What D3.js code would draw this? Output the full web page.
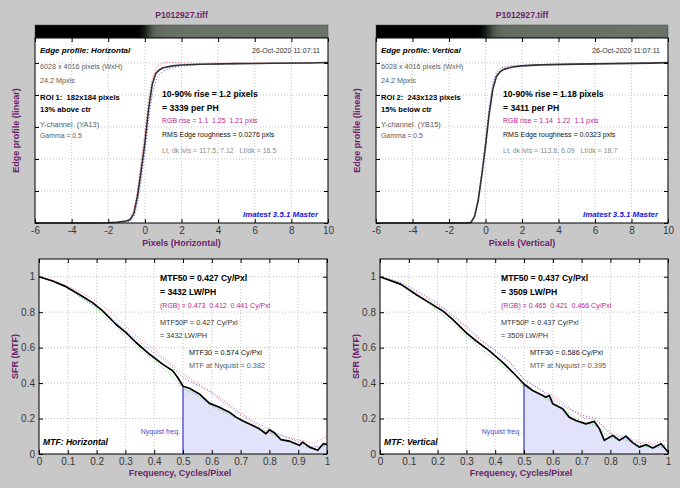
<!DOCTYPE html>
<html><head><meta charset="utf-8">
<script src="https://cdn.jsdelivr.net/npm/d3@7"></script>
<style>body{margin:0;background:#c8c8c8} svg{display:block} text{font-family:"Liberation Sans",Arial,Helvetica,sans-serif;white-space:pre}</style>
</head><body><svg id="c" width="680" height="488"></svg>
<script>
// ---------------- data ----------------
const edgeX  = [-6,-3,-2,-1.5,-1,-0.8,-0.6,-0.4,-0.2,0,0.2,0.4,0.6,0.8,1,1.5,2,3,5,7,9,10];
const edgeH  = [0,0,0.002,0.005,0.012,0.022,0.06,0.17,0.33,0.5,0.71,0.865,0.935,0.958,0.97,0.982,0.987,0.992,0.996,0.998,1.0,1.003];
const edgeHR = [0,0,0.002,0.006,0.016,0.03,0.08,0.21,0.39,0.57,0.77,0.9,0.97,0.99,1.0,1.004,1.0,0.998,0.999,1.0,1.002,1.004];
const edgeHB = [0,0,0.001,0.003,0.008,0.012,0.035,0.12,0.27,0.44,0.64,0.8,0.89,0.93,0.95,0.97,0.98,0.99,0.995,0.998,1.0,1.002];
const edgeV  = [0,0,0,0,0.001,0.003,0.04,0.14,0.3,0.48,0.68,0.835,0.915,0.945,0.96,0.975,0.982,0.988,0.993,0.996,0.999,1.002];
const edgeVR = [0,0,0,0,0.002,0.005,0.05,0.16,0.32,0.5,0.7,0.85,0.925,0.95,0.965,0.978,0.984,0.99,0.995,0.997,1.0,1.003];
const edgeVB = [0,0,0,0,0.001,0.004,0.045,0.15,0.32,0.51,0.72,0.87,0.94,0.965,0.975,0.982,0.986,0.99,0.994,0.997,1.0,1.002];

const freqH = [0,0.047,0.094,0.14,0.186,0.221,0.267,0.302,0.337,0.383,0.429,0.464,0.481,0.5,0.522,0.557,0.591,0.626,0.661,0.684,0.707,0.742,0.765,0.788,0.8,0.817,0.84,0.869,0.904,0.916,0.939,0.968,0.987,1.0];
const mtfH  = [1.0,0.976,0.944,0.9,0.854,0.807,0.732,0.685,0.629,0.564,0.507,0.47,0.433,0.382,0.371,0.339,0.287,0.264,0.236,0.208,0.187,0.161,0.142,0.114,0.137,0.12,0.081,0.073,0.049,0.067,0.039,0.021,0.058,0.054];
const freqV = [0,0.073,0.125,0.171,0.218,0.252,0.299,0.333,0.38,0.426,0.461,0.5,0.53,0.565,0.576,0.588,0.6,0.634,0.657,0.68,0.715,0.744,0.762,0.779,0.808,0.831,0.854,0.877,0.9,0.924,0.947,0.976,1.0];
const mtfV  = [1.0,0.957,0.9,0.854,0.807,0.76,0.685,0.639,0.582,0.517,0.461,0.395,0.358,0.33,0.32,0.33,0.283,0.255,0.208,0.189,0.17,0.184,0.142,0.077,0.105,0.077,0.101,0.064,0.039,0.052,0.034,0.058,0.011];

const freqRGB = [0,0.05,0.1,0.15,0.2,0.25,0.3,0.35,0.4,0.45,0.5,0.55,0.6,0.65,0.7,0.75,0.8,0.85,0.9,0.95,1.0];
const mtfHR = [1,0.98,0.945,0.91,0.86,0.8,0.72,0.65,0.59,0.52,0.45,0.4,0.34,0.28,0.22,0.17,0.12,0.1,0.08,0.06,0.1];
const mtfHG = [1,0.975,0.935,0.88,0.82,0.74,0.665,0.59,0.525,0.46,0.37,0.33,0.27,0.23,0.19,0.15,0.12,0.075,0.05,0.03,0.05];
const mtfHB = [1,0.975,0.935,0.88,0.83,0.77,0.7,0.63,0.57,0.51,0.43,0.39,0.35,0.29,0.23,0.18,0.14,0.1,0.07,0.04,0.05];
const mtfVR = [1,0.975,0.935,0.89,0.84,0.78,0.71,0.64,0.58,0.52,0.42,0.37,0.33,0.27,0.21,0.19,0.12,0.1,0.07,0.06,0.08];
const mtfVG = [1,0.97,0.93,0.87,0.81,0.74,0.665,0.595,0.53,0.46,0.38,0.34,0.29,0.24,0.18,0.16,0.09,0.08,0.05,0.035,0.04];
const mtfVB = [1,0.98,0.945,0.9,0.85,0.79,0.72,0.645,0.585,0.52,0.42,0.37,0.31,0.26,0.22,0.2,0.11,0.09,0.06,0.05,0.05];

const edgeTicksX = [-6,-4,-2,0,2,4,6,8,10];
const edgeTicksY = [0,0.2,0.4,0.6,0.8,1];
const mtfTicksX = [0,0.1,0.2,0.3,0.4,0.5,0.6,0.7,0.8,0.9,1];
const mtfTicksY = [0,0.2,0.4,0.6,0.8,1];
const nyquist = 0.5;

// ---------------- drawing ----------------
const svg = d3.select("#c");
svg.append("rect").attr("width",680).attr("height",488).attr("fill","#c8c8c8");
const PURPLE = "#6b1f6b", MAG = "#b8288c", GRAY = "#5a5a5a";

function T(g, x, y, s, o={}) {
  return g.append("text").attr("x",x).attr("y",y).attr("xml:space","preserve").text(s)
    .attr("font-size",o.size||7.2).attr("fill",o.fill||"#000")
    .attr("font-weight",o.bold?"bold":null).attr("font-style",o.italic?"italic":null)
    .attr("text-anchor",o.anchor||"start");
}

function grid(g, x, y, xt, yt, b) {
  g.append("g").selectAll("line").data(xt).join("line")
    .attr("x1",d=>x(d)).attr("x2",d=>x(d)).attr("y1",b.T).attr("y2",b.B)
    .attr("stroke","#b4b4b4").attr("stroke-width",0.8).attr("stroke-dasharray","1,2");
  g.append("g").selectAll("line").data(yt).join("line")
    .attr("y1",d=>y(d)).attr("y2",d=>y(d)).attr("x1",b.L).attr("x2",b.R)
    .attr("stroke","#b4b4b4").attr("stroke-width",0.8).attr("stroke-dasharray","1,2");
}

function styleAxis(sel) {
  sel.select(".domain").remove();
  sel.selectAll(".tick line").attr("stroke","#000");
  sel.selectAll(".tick text").attr("font-size",10).attr("fill","#383838")
    .attr("font-family",'"Liberation Sans",Arial,sans-serif');
}

function axes(g, x, y, xt, yt, b, yLabels) {
  g.append("g").attr("transform",`translate(0,${b.B})`)
    .call(d3.axisBottom(x).tickValues(xt).tickSize(-4).tickPadding(4).tickFormat(d=>String(d))).call(styleAxis);
  g.append("g").attr("transform",`translate(0,${b.T})`)
    .call(d3.axisTop(x).tickValues(xt).tickSize(-4).tickFormat(()=>"")).call(styleAxis);
  g.append("g").attr("transform",`translate(${b.L},0)`)
    .call(d3.axisLeft(y).tickValues(yt).tickSize(-4).tickPadding(4).tickFormat(d=>yLabels?String(d):"")).call(styleAxis);
  g.append("g").attr("transform",`translate(${b.R},0)`)
    .call(d3.axisRight(y).tickValues(yt).tickSize(-4).tickFormat(()=>"")).call(styleAxis);
  g.append("rect").attr("x",b.L).attr("y",b.T).attr("width",b.R-b.L).attr("height",b.B-b.T)
    .attr("fill","none").attr("stroke","#000").attr("stroke-width",1);
}

function pathOf(g, x, y, xs, ys, stroke, w, dash) {
  const line = d3.line().x(d=>x(d[0])).y(d=>y(d[1]));
  g.append("path").datum(d3.zip(xs, ys)).attr("d",line).attr("fill","none")
    .attr("stroke",stroke).attr("stroke-width",w).attr("stroke-dasharray",dash||null)
    .attr("stroke-linejoin","round");
}

let gradId = 0;
function edgePanel(o) {
  const b = {L:o.L, R:o.R, T:38, B:223};
  const g = svg.append("g");
  const x = d3.scaleLinear([-6,10],[b.L,b.R]);
  const y = d3.scaleLinear([0,1.156],[b.B,b.T]);
  T(g, (b.L+b.R)/2, 18, "P1012927.tiff", {size:8.6, bold:true, fill:PURPLE, anchor:"middle"});
  const id = "strip"+(gradId++);
  const grad = svg.append("defs").append("linearGradient").attr("id",id)
    .attr("gradientUnits","userSpaceOnUse").attr("x1",b.L).attr("x2",b.R).attr("y1",0).attr("y2",0);
  const col = d3.interpolateRgb("#000000", o.stripColor);
  d3.zip(edgeX, o.ys).forEach(([ex,ev]) => {
    grad.append("stop").attr("offset",(x(ex)-b.L)/(b.R-b.L)).attr("stop-color",col(Math.max(0,Math.min(1,ev))**2));
  });
  g.append("rect").attr("x",b.L).attr("y",25).attr("width",b.R-b.L).attr("height",b.T-25).attr("fill",`url(#${id})`)
    .attr("stroke","#444").attr("stroke-width",0.5);
  g.append("rect").attr("x",b.L).attr("y",b.T).attr("width",b.R-b.L).attr("height",b.B-b.T).attr("fill","#fff");
  grid(g, x, y, edgeTicksX, edgeTicksY, b);
  pathOf(g, x, y, edgeX, o.red, "#ff5050", 1, "1,2");
  pathOf(g, x, y, edgeX, o.blue, "#5050ff", 1, "1,2");
  pathOf(g, x, y, edgeX, o.ys, "#303030", 1.6);
  axes(g, x, y, edgeTicksX, edgeTicksY, b, false);
  g.append("text").attr("transform",`translate(${o.L-16},${(b.T+b.B)/2}) rotate(-90)`)
    .attr("text-anchor","middle").attr("font-size",9).attr("font-weight","bold").attr("fill",PURPLE).text("Edge profile (linear)");
  T(g, (b.L+b.R)/2, 246, o.xlabel, {size:9, bold:true, fill:PURPLE, anchor:"middle"});
  const L = b.L;
  T(g, L+5, 52.5, o.head, {size:8, bold:true, italic:true});
  T(g, b.R-8, 52.5, "26-Oct-2020 11:07:11", {size:7.1, fill:"#333", anchor:"end"});
  T(g, L+5, 69, "6028 x 4016 pixels (WxH)", {fill:GRAY});
  T(g, L+5, 82.5, "24.2 Mpxls", {fill:GRAY});
  T(g, L+5, 100, o.roi, {size:7.6, bold:true});
  T(g, L+5, 111.7, o.pos, {size:7.6, bold:true});
  T(g, L+5, 126.7, o.chan, {size:7.4, fill:GRAY});
  T(g, L+5, 138.3, "Gamma = 0.5", {size:6.9, fill:GRAY});
  T(g, L+127, 97.3, o.rise, {size:8.6, bold:true});
  T(g, L+127, 110.7, o.perph, {size:8.6, bold:true});
  T(g, L+127, 123.3, o.rgb, {size:7, fill:MAG});
  T(g, L+127, 136.7, o.rms, {size:7, fill:"#111"});
  T(g, L+127, 152.7, o.lvls, {size:7, fill:"#8a8a8a"});
  T(g, b.R-10, 216.7, "Imatest 3.5.1 Master", {size:7.9, bold:true, italic:true, fill:"#1414e6", anchor:"end"});
}

function mtfPanel(o) {
  const b = {L:o.L, R:o.R, T:259, B:454};
  const g = svg.append("g");
  const x = d3.scaleLinear([0,1],[b.L,b.R]);
  const y = d3.scaleLinear([0,1.1],[b.B,b.T]);
  g.append("rect").attr("x",b.L).attr("y",b.T).attr("width",b.R-b.L).attr("height",b.B-b.T).attr("fill","#fff");
  grid(g, x, y, mtfTicksX, mtfTicksY, b);
  const pts = d3.zip(o.f, o.v).filter(d=>d[0]>=nyquist);
  g.append("path").datum(pts)
    .attr("d", d3.area().x(d=>x(d[0])).y0(y(0)).y1(d=>y(d[1])))
    .attr("fill","#e2e2fb");
  const vN = pts[0][1];
  g.append("line").attr("x1",x(nyquist)).attr("x2",x(nyquist)).attr("y1",y(0)).attr("y2",y(vN))
    .attr("stroke","#6464d8").attr("stroke-width",1.6);
  pathOf(g, x, y, freqRGB, o.r, "#ff6a6a", 1, "1,2");
  pathOf(g, x, y, freqRGB, o.gr, "#4ccc4c", 1, "1,2");
  pathOf(g, x, y, freqRGB, o.bl, "#6a6aff", 1, "1,2");
  pathOf(g, x, y, o.f, o.v, "#000", 1.7);
  axes(g, x, y, mtfTicksX, mtfTicksY, b, true);
  g.append("text").attr("transform",`translate(${o.L-21},${(b.T+b.B)/2}) rotate(-90)`)
    .attr("text-anchor","middle").attr("font-size",9).attr("font-weight","bold").attr("fill",PURPLE).text("SFR (MTF)");
  T(g, (b.L+b.R)/2-3, 476, "Frequency, Cycles/Pixel", {size:9, bold:true, fill:PURPLE, anchor:"middle"});
  const L = b.L;
  T(g, L+121, 281.3, o.m50, {size:8.6, bold:true});
  T(g, L+121, 294.7, o.lw, {size:8.6, bold:true});
  T(g, L+121, 307.7, o.rgbT, {size:7, fill:MAG});
  T(g, L+121, 324.7, o.m50p, {size:7.3, fill:"#333"});
  T(g, L+121, 338, o.lw2, {size:7.3, fill:"#333"});
  T(g, L+150, 354.7, o.m30, {size:7.3, fill:"#111"});
  T(g, L+150, 368, o.nyq, {size:7.3, fill:GRAY});
  T(g, x(nyquist)-3, 433.7, "Nyquist freq.", {size:7, fill:"#4848d0", anchor:"end"});
  T(g, L+4, 445.3, o.head, {size:8.6, bold:true, italic:true});
}

edgePanel({L:35, R:328, ys:edgeH, red:edgeHR, blue:edgeHB, stripColor:"#6b7468",
  xlabel:"Pixels (Horizontal)", head:"Edge profile: Horizontal",
  roi:"ROI 1:  182x184 pixels", pos:"13% above ctr", chan:"Y-channel  (YA13)",
  rise:"10-90% rise = 1.2 pixels", perph:"= 3339 per PH", rgb:"RGB rise = 1.1  1.25  1.21 pxls",
  rms:"RMS Edge roughness = 0.0276 pxls", lvls:"Lt, dk lvls = 117.5, 7.12   Lt/dk = 16.5"});
edgePanel({L:376, R:668, ys:edgeV, red:edgeVR, blue:edgeVB, stripColor:"#6a7266",
  xlabel:"Pixels (Vertical)", head:"Edge profile: Vertical",
  roi:"ROI 2:  243x123 pixels", pos:"15% below ctr", chan:"Y-channel  (YB15)",
  rise:"10-90% rise = 1.18 pixels", perph:"= 3411 per PH", rgb:"RGB rise = 1.14  1.22  1.1 pxls",
  rms:"RMS Edge roughness = 0.0323 pxls", lvls:"Lt, dk lvls = 113.8, 6.09   Lt/dk = 18.7"});
mtfPanel({L:39, R:327, f:freqH, v:mtfH, r:mtfHR, gr:mtfHG, bl:mtfHB, head:"MTF: Horizontal",
  m50:"MTF50 = 0.427 Cy/Pxl", lw:"= 3432 LW/PH", rgbT:"(RGB) = 0.473  0.412  0.441 Cy/Pxl",
  m50p:"MTF50P = 0.427 Cy/Pxl", lw2:"= 3432 LW/PH", m30:"MTF30 = 0.574 Cy/Pxl", nyq:"MTF at Nyquist = 0.382"});
mtfPanel({L:380, R:668, f:freqV, v:mtfV, r:mtfVR, gr:mtfVG, bl:mtfVB, head:"MTF: Vertical",
  m50:"MTF50 = 0.437 Cy/Pxl", lw:"= 3509 LW/PH", rgbT:"(RGB) = 0.465  0.421  0.466 Cy/Pxl",
  m50p:"MTF50P = 0.437 Cy/Pxl", lw2:"= 3509 LW/PH", m30:"MTF30 = 0.586 Cy/Pxl", nyq:"MTF at Nyquist = 0.395"});
</script></body></html>
